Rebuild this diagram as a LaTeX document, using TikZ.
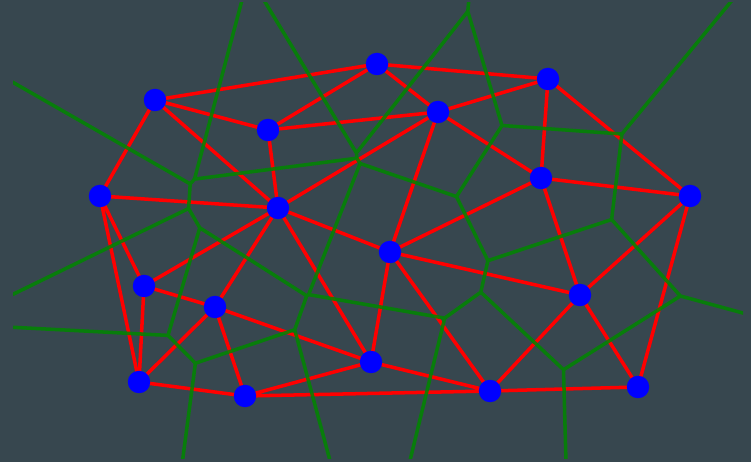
\documentclass[tikz,border=0pt]{standalone}
\definecolor{bgslate}{HTML}{37474F}
\definecolor{cellgreen}{RGB}{0,135,0}
\definecolor{triared}{RGB}{255,0,0}
\definecolor{siteblue}{RGB}{0,0,255}
\tikzset{
  site/.style={circle,fill=siteblue,inner sep=0pt,minimum size=0.45cm},
  delaunay/.style={draw=triared,line width=2pt},
  voronoi/.style={draw=cellgreen,line width=2pt,opacity=0.85}
}
\begin{document}
\begin{tikzpicture}[x=0.02cm,y=-0.02cm]
\fill[bgslate] (0,0) rectangle (751,462);
\useasboundingbox (0,0) rectangle (751,462);
% sites
\coordinate (a) at (155,100);
\coordinate (b) at (377,64);
\coordinate (c) at (548,79);
\coordinate (d) at (268,130);
\coordinate (e) at (438,112);
\coordinate (f) at (100,196);
\coordinate (g) at (278,208);
\coordinate (h) at (541,178);
\coordinate (i) at (690,196);
\coordinate (j) at (390,252);
\coordinate (k) at (144,286);
\coordinate (l) at (215,307);
\coordinate (m) at (580,295);
\coordinate (n) at (371,362);
\coordinate (o) at (139,382);
\coordinate (p) at (245,396);
\coordinate (q) at (490,391);
\coordinate (r) at (638,387);
% circumcentres
\coordinate (vabd) at (248.7,-25.0);
\coordinate (vadg) at (194.5,179.1);
\coordinate (vafg) at (190.2,183.9);
\coordinate (vbde) at (356.4,153.0);
\coordinate (vbce) at (467.8,11.4);
\coordinate (vdeg) at (356.9,158.2);
\coordinate (vceh) at (502.0,125.5);
\coordinate (vchi) at (621.9,134.0);
\coordinate (vegj) at (360.1,163.5);
\coordinate (vehj) at (456.5,196.6);
\coordinate (vfgk) at (188.6,208.5);
\coordinate (vfko) at (-48.0,324.1);
\coordinate (vgkl) at (199.8,227.8);
\coordinate (vklo) at (168.0,335.4);
\coordinate (vlop) at (195.4,363.2);
\coordinate (vgln) at (306.7,295.8);
\coordinate (vgjn) at (308.6,294.6);
\coordinate (vlnp) at (294.7,329.7);
\coordinate (vnpq) at (372.0,616.4);
\coordinate (vjnq) at (444.7,318.1);
\coordinate (vjmq) at (480.8,292.2);
\coordinate (vhjm) at (487.9,260.7);
\coordinate (vhim) at (611.6,219.5);
\coordinate (vimr) at (680.4,296.0);
\coordinate (vmqr) at (563.5,369.7);
% open ends of the outer cells
\coordinate (xbc) at (470.8,-22.8);
\coordinate (xci) at (762.3,-36.4);
\coordinate (xir) at (775.9,322.0);
\coordinate (xrq) at (566.7,488.1);
\coordinate (xpo) at (178.6,490.4);
\coordinate (xfa) at (-21.0,62.9);
% triangulation
\draw[delaunay] \foreach \u/\v in {a/b,a/d,a/f,a/g,b/c,b/d,b/e,c/e,c/h,c/i,d/e,d/g,e/g,e/h,e/j,
  f/g,f/k,f/o,g/j,g/k,g/l,g/n,h/j,h/i,h/m,i/m,i/r,j/n,j/m,j/q,k/l,k/o,l/o,l/p,l/n,
  o/p,p/n,p/q,n/q,m/q,m/r,q/r} {(\u) -- (\v)};
% cells
\begin{scope}
\clip (13,3) rectangle (743,459);
\draw[voronoi] \foreach \u/\v in {vabd/vadg,vadg/vafg,vabd/vbde,vbde/vbce,vbce/vceh,vceh/vchi,
  vbde/vdeg,vadg/vdeg,vdeg/vegj,vceh/vehj,vegj/vehj,vafg/vfgk,vfgk/vfko,vegj/vgjn,
  vfgk/vgkl,vgkl/vgln,vgln/vgjn,vehj/vhjm,vchi/vhim,vhjm/vhim,vhim/vimr,vgjn/vjnq,
  vhjm/vjmq,vjnq/vjmq,vgkl/vklo,vfko/vklo,vklo/vlop,vlop/vlnp,vgln/vlnp,vlnp/vnpq,
  vnpq/vjnq,vjmq/vmqr,vimr/vmqr,
  vbce/xbc,vchi/xci,vimr/xir,vmqr/xrq,vlop/xpo,vafg/xfa} {(\u) -- (\v)};
\end{scope}
% site markers
\foreach \s in {a,b,c,d,e,f,g,h,i,j,k,l,m,n,o,p,q,r}
  \node[site] (dot\s) at (\s) {};
\end{tikzpicture}
\end{document}
